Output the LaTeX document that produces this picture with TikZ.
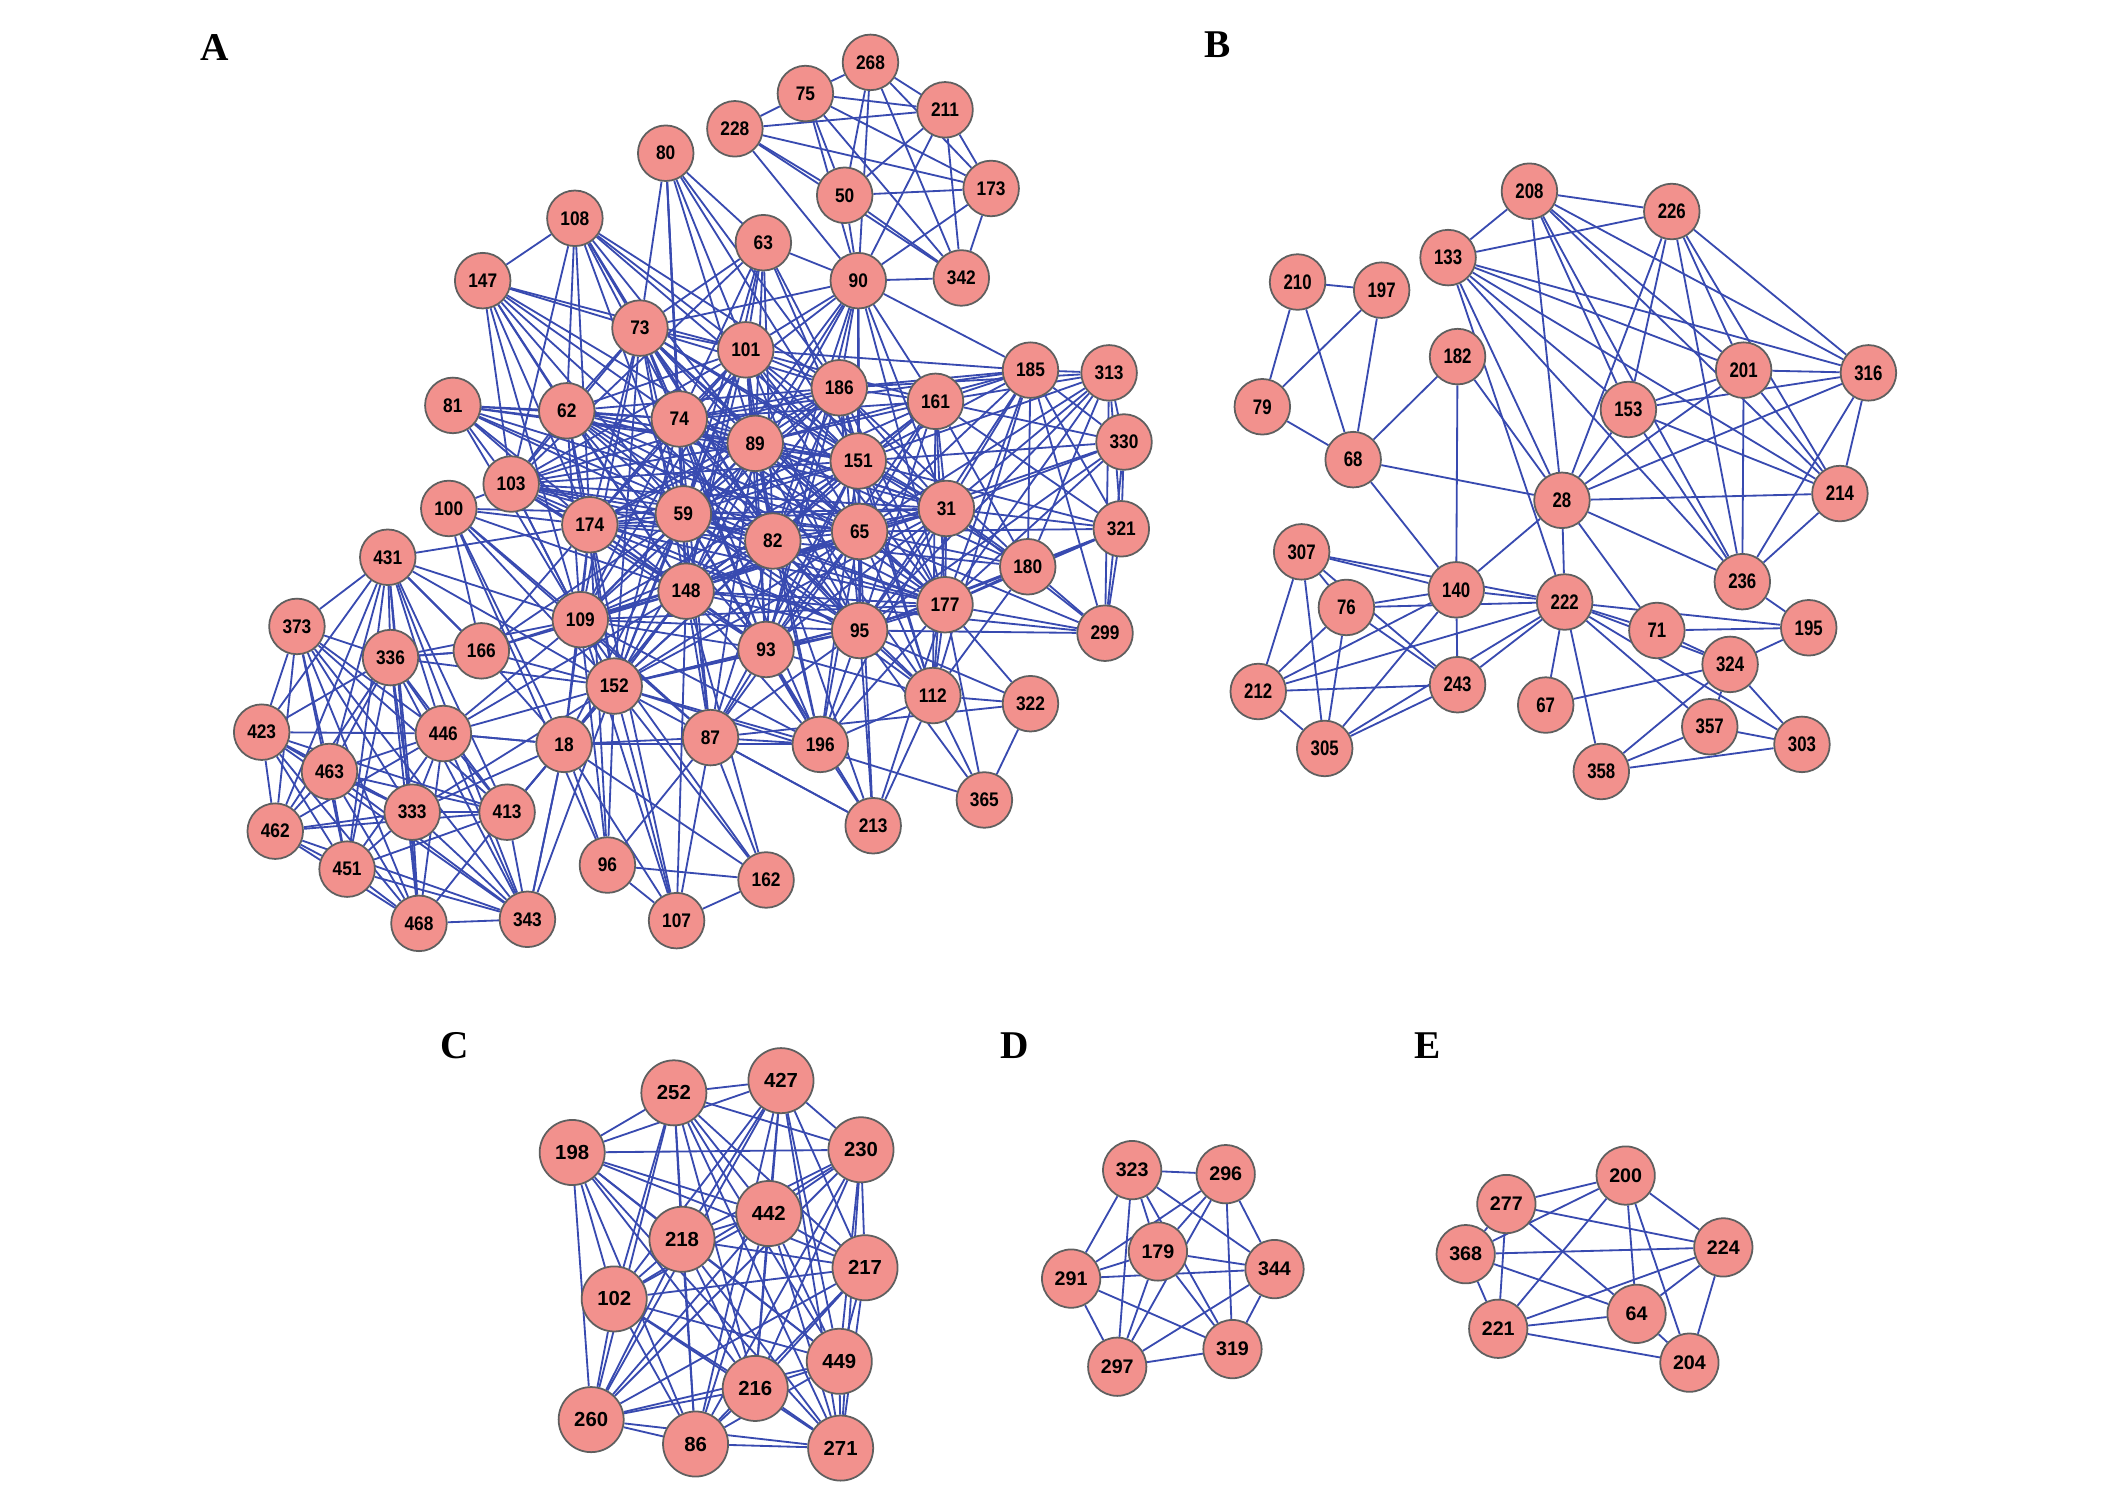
\documentclass[tikz,border=0pt]{standalone}
\usepackage{fontspec}
\newfontfamily\nfa[FakeStretch=0.88]{Liberation Sans}
\newfontfamily\nfb[FakeStretch=0.8]{Liberation Sans}
\newfontfamily\nfc{Liberation Sans}
\newfontfamily\lblf{Liberation Serif}
\definecolor{edgeblue}{RGB}{56,74,176}
\definecolor{nodefill}{RGB}{242,145,141}
\definecolor{nodeline}{RGB}{95,95,95}
\pgfdeclarelayer{bg}\pgfsetlayers{bg,main}
\newcommand\completeg[1]{\foreach \a [count=\i] in {#1}{\foreach \b [count=\j] in {#1}{\ifnum\i<\j \draw[ed] (n\a) -- (n\b);\fi}}}
\newcommand\adjg[1]{\foreach \a/\l in {#1}{\foreach \b in \l {\draw[ed] (n\a) -- (n\b);}}}
\begin{document}
\begin{tikzpicture}[x=1pt,y=-1pt,
 nd/.style={circle,fill=nodefill,draw=nodeline,line width=1.3pt,inner sep=0pt,minimum size=41pt,font=\nfa\bfseries\fontsize{14.5}{14.5}\selectfont},
 ndb/.style={nd,font=\nfb\bfseries\fontsize{15.5}{15.5}\selectfont},
 ndc/.style={nd,minimum size=48pt,font=\nfc\bfseries\fontsize{15}{15}\selectfont},
 ndd/.style={nd,minimum size=43pt,font=\nfc\bfseries\fontsize{14.5}{14.5}\selectfont},
 ed/.style={draw=edgeblue,line width=1.35pt},
 lab/.style={font=\lblf\bfseries\fontsize{29}{29}\selectfont}]
\useasboundingbox (0,0) rectangle (1568,1098);
% labels
\node[lab] (lA) at (158,35) {A};
\node[lab] (lB) at (898,33) {B};
\node[lab] (lC) at (335,771) {C};
\node[lab] (lD) at (748,771) {D};
\node[lab] (lE) at (1053,771) {E};
% graph A nodes
\foreach \n/\x/\y in {268/642/46, 75/594/69, 211/697/81, 228/542/95, 80/491/113, 50/623/144, 173/731/139, 108/424/161, 63/563/179, 90/633/207, 342/709/205, 147/356/207, 73/472/242, 101/550/258, 185/760/273, 313/818/275, 186/619/286, 161/690/296, 81/334/299, 62/418/303, 74/501/309, 89/557/327, 330/829/326, 151/633/340, 103/377/357, 100/331/375, 59/504/379, 31/698/375, 174/435/387, 82/570/399, 65/634/392, 321/827/390, 180/758/418, 431/286/411, 148/506/436, 177/697/446, 373/219/462, 109/428/457, 95/634/465, 299/815/467, 336/288/485, 166/355/480, 93/565/479, 152/453/506, 112/688/513, 322/760/519, 423/193/540, 446/327/541, 87/524/544, 196/605/549, 18/416/549, 463/243/569, 333/304/599, 413/374/599, 365/726/590, 213/644/609, 462/203/613, 96/448/638, 162/565/649, 451/256/641, 343/389/678, 468/309/681, 107/499/679}
  \node[nd] (n\n) at (\x,\y) {\n};
% graph B nodes
\foreach \n/\x/\y in {208/1128/141, 226/1233/156, 133/1068/190, 210/957/208, 197/1019/214, 182/1075/263, 201/1286/273, 316/1378/275, 153/1201/302, 79/931/300, 68/998/339, 28/1152/369, 214/1357/364, 307/960/407, 236/1285/429, 140/1074/435, 222/1154/444, 76/993/448, 71/1222/465, 195/1334/463, 324/1276/490, 243/1075/505, 212/928/510, 67/1140/520, 357/1261/536, 303/1329/549, 305/977/552, 358/1181/569}
  \node[ndb] (n\n) at (\x,\y) {\n};
% graph C nodes
\foreach \n/\x/\y in {252/497/806, 427/576/797, 198/422/850, 230/635/848, 442/567/895, 218/503/914, 217/638/935, 102/453/958, 449/619/1004, 216/557/1024, 260/436/1047, 86/513/1065, 271/620/1068}
  \node[ndc] (n\n) at (\x,\y) {\n};
% graph D nodes
\foreach \n/\x/\y in {323/835/863, 296/904/866, 179/854/923, 344/940/936, 291/790/943, 319/909/995, 297/824/1008}
  \node[ndd] (n\n) at (\x,\y) {\n};
% graph E nodes
\foreach \n/\x/\y in {200/1199/867, 277/1111/888, 368/1081/925, 224/1271/920, 64/1207/969, 221/1105/980, 204/1246/1005}
  \node[ndd] (n\n) at (\x,\y) {\n};

\begin{pgfonlayer}{bg}
% ---- graph A edges
\completeg{59,74,89,82,65,151,186,101,148,93,95,31,177,174,103,62,73,109,152}
\completeg{431,373,336,423,463,446,462,333,413,451,468,343}
\adjg{268/{75,211,50,90,173,342}, 75/{228,211,50,173,342,90}, 228/{211,50,173,90,342}, 211/{50,90,173,342}, 50/{173,90,342}, 173/{342,90},
 90/{342,63,101,186,89,151,65,161,31,74,59,73,82,95,185,177,93,148},
 80/{73,74,101,89,186,59,151,63,148},
 63/{73,101,89,74,186,59,82,151,103,148},
 108/{147,73,62,103,74,59,89,101,186,151,174,82},
 147/{73,62,103,174,74,59,101,89,82,148,109},
 81/{62,103,74,59,89,174,82,148,65,151,109},
 100/{103,174,59,148,109,152,18,166,96,87},
 161/{186,151,89,101,74,65,31,82,59,177,95,185,313,330,321,180,112,148,93},
 185/{186,151,31,65,89,74,101,313,330,321,180,177,95,112,299},
 313/{330,321,299,31,151,177,180,65,95,186},
 330/{321,299,31,65,177,151,95},
 321/{180,299,31,177,65,151,95},
 180/{299,31,151,65,177,95,82,89,186,112},
 299/{177,31,95,65,148},
 322/{177,112,365,87,95},
 365/{112,95,152,177},
 213/{196,87,95,65,177,112,93,82},
 112/{177,31,95,65,151,93,82,196,89,186,59},
 196/{87,93,82,95,65,151,152,148,59,74,89,31,177,109,18},
 87/{152,18,93,148,82,59,95,65,74,109,162,107,96,213,89,151},
 162/{18,152,96,107,109,148},
 107/{96,152,18,109,148,174},
 96/{18,152,109,174},
 18/{152,413,343,109,148,59,166,446,174},
 166/{152,109,148,59,336,431,174},
 431/{166,109,152,174}, 336/{166,152,109}, 446/{152,18,109,148}, 333/{18,152}, 413/{152,18}, 343/{18,152}}
% ---- graph B edges
\adjg{208/{226,133,28,153,201,316,214,236}, 226/{133,28,153,201,214,236,316}, 133/{28,153,201,316,214,236,222},
 210/{197,79,68}, 197/{79,68}, 79/{68}, 182/{68,140,28}, 68/{28,140},
 201/{316,153,28,214,236}, 316/{153,28,214,236}, 153/{28,214,236}, 28/{214,236,140,222,71}, 214/{236}, 236/{195},
 307/{140,222,76,212,305,243}, 76/{140,222,243,212,305}, 140/{222,212,305,243}, 212/{222,243,305}, 305/{222,243}, 243/{222},
 222/{67,358,71,195,324,357,303}, 71/{195,324}, 324/{195,67,358,303,357}, 357/{358,303}, 358/{303}}
% ---- graph C edges
\completeg{252,427,198,230,442,218,217,102,449,216,260,86,271}
% ---- graph D edges
\completeg{323,296,179,344,291,319,297}
% ---- graph E edges
\adjg{200/{277,368,221,64,204,224}, 277/{224,64,221,368}, 368/{224,64,221}, 221/{224,64,204}, 64/{224,204}, 224/{204}}
\end{pgfonlayer}
\end{tikzpicture}
\end{document}
